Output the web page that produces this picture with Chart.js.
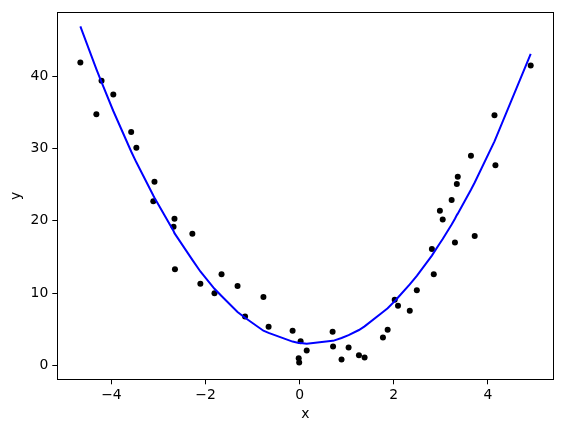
<!DOCTYPE html>
<html>
<head>
<meta charset="utf-8">
<script src="https://cdn.jsdelivr.net/npm/chart.js@4"></script>
<style>
html,body{margin:0;padding:0;background:#fff;}
canvas{display:block;}
</style>
</head>
<body>
<canvas id="c" width="563" height="432"></canvas>
<script>
// Scatter observations
const pointX = [-4.66,-4.21,-3.96,-4.32,-3.58,-3.47,-3.085,-3.11,-2.66,-2.68,-2.28,-2.65,-2.11,-1.66,-1.81,-1.32,-1.16,-0.77,-0.66,-0.15,0.02,0.15,-0.02,-0.01,0.70,0.71,0.89,1.04,1.26,1.38,1.77,1.87,2.02,2.09,2.34,2.49,2.85,2.81,3.30,3.72,2.98,3.04,3.23,3.34,3.36,3.64,4.16,4.14,4.91];
const pointY = [41.9,39.4,37.5,34.75,32.3,30.1,25.4,22.7,20.3,19.2,18.2,13.3,11.3,12.6,10.0,11.0,6.77,9.48,5.36,4.81,3.34,2.06,1.0,0.41,4.67,2.61,0.82,2.47,1.41,1.10,3.85,4.94,9.07,8.24,7.55,10.4,12.6,16.1,17.0,17.9,21.4,20.2,22.9,25.1,26.1,29.0,27.7,34.6,41.5];
// Fitted curve (at sorted x)
const fitX = [-4.66,-4.32,-4.21,-3.96,-3.58,-3.47,-3.11,-3.085,-2.68,-2.66,-2.65,-2.28,-2.11,-1.81,-1.66,-1.32,-1.16,-0.77,-0.66,-0.15,-0.02,-0.01,0.02,0.15,0.70,0.71,0.89,1.04,1.26,1.38,1.77,1.87,2.02,2.09,2.34,2.49,2.81,2.85,2.98,3.04,3.23,3.30,3.34,3.36,3.64,3.72,4.14,4.16,4.91];
const fitY = [46.9,41.0,39.2,35.2,29.6,28.1,23.5,23.2,18.6,18.3,18.2,14.6,13.0,10.6,9.6,7.4,6.6,4.8,4.5,3.3,3.1,3.1,3.1,3.0,3.4,3.4,3.8,4.2,4.9,5.4,7.4,7.9,8.9,9.4,11.2,12.4,15.2,15.6,16.9,17.5,19.5,20.3,20.8,21.0,24.3,25.3,31.0,31.3,43.1];
const xTicks = [-4,-2,0,2,4];
const yTicks = [0,10,20,30,40];
const xTitle = 'x';
const yTitle = 'y';

const FONT = {family: 'DejaVu Sans', size: 13.9};

const frame = {
  id: 'frame',
  afterDatasetsDraw(chart) {
    const a = chart.chartArea, ctx = chart.ctx;
    ctx.save();
    ctx.strokeStyle = '#000';
    ctx.lineWidth = 1;
    ctx.strokeRect(Math.round(a.left)+0.5, Math.round(a.top)+0.5, Math.round(a.right-a.left), Math.round(a.bottom-a.top));
    ctx.restore();
  }
};

const fmt = v => (v < 0 ? '\u2212' + Math.abs(v) : String(v));

new Chart(document.getElementById('c'), {
  data: {
    datasets: [
      {
        type: 'line',
        data: fitX.map((x, i) => ({x: x, y: fitY[i]})),
        borderColor: '#0000ff',
        borderWidth: 2,
        pointRadius: 0,
        tension: 0,
        fill: false,
        order: 0
      },
      {
        type: 'scatter',
        data: pointX.map((x, i) => ({x: x, y: pointY[i]})),
        backgroundColor: '#000',
        borderColor: '#000',
        borderWidth: 0,
        pointRadius: 3,
        order: 1
      }
    ]
  },
  options: {
    responsive: false,
    animation: false,
    devicePixelRatio: 1,
    layout: {padding: {top: 9.7, right: 9.7, left: 0, bottom: 0}},
    plugins: {legend: {display: false}, tooltip: {enabled: false}},
    scales: {
      x: {
        type: 'linear',
        min: -5.15, max: 5.39,
        afterBuildTicks: s => { s.ticks = xTicks.map(v => ({value: v})); },
        afterFit: s => { s.height = 52.7; },
        grid: {display: true, drawOnChartArea: false, drawTicks: true, tickLength: 5, color: '#000', tickColor: '#000'},
        border: {display: true, color: '#000'},
        ticks: {color: '#000', font: FONT, padding: 3, maxRotation: 0, callback: v => fmt(v)},
        title: {display: true, text: xTitle, color: '#000', font: FONT, padding: {top: 0, bottom: 9}}
      },
      y: {
        type: 'linear',
        min: -1.92, max: 48.85,
        afterBuildTicks: s => { s.ticks = yTicks.map(v => ({value: v})); },
        afterFit: s => { s.width = 57.3; },
        grid: {display: true, drawOnChartArea: false, drawTicks: true, tickLength: 5, color: '#000', tickColor: '#000'},
        border: {display: true, color: '#000'},
        ticks: {color: '#000', font: FONT, padding: 4, callback: v => fmt(v)},
        title: {display: true, text: yTitle, color: '#000', font: FONT, padding: {top: 8, bottom: 0}}
      }
    }
  },
  plugins: [frame]
});
</script>
</body>
</html>
